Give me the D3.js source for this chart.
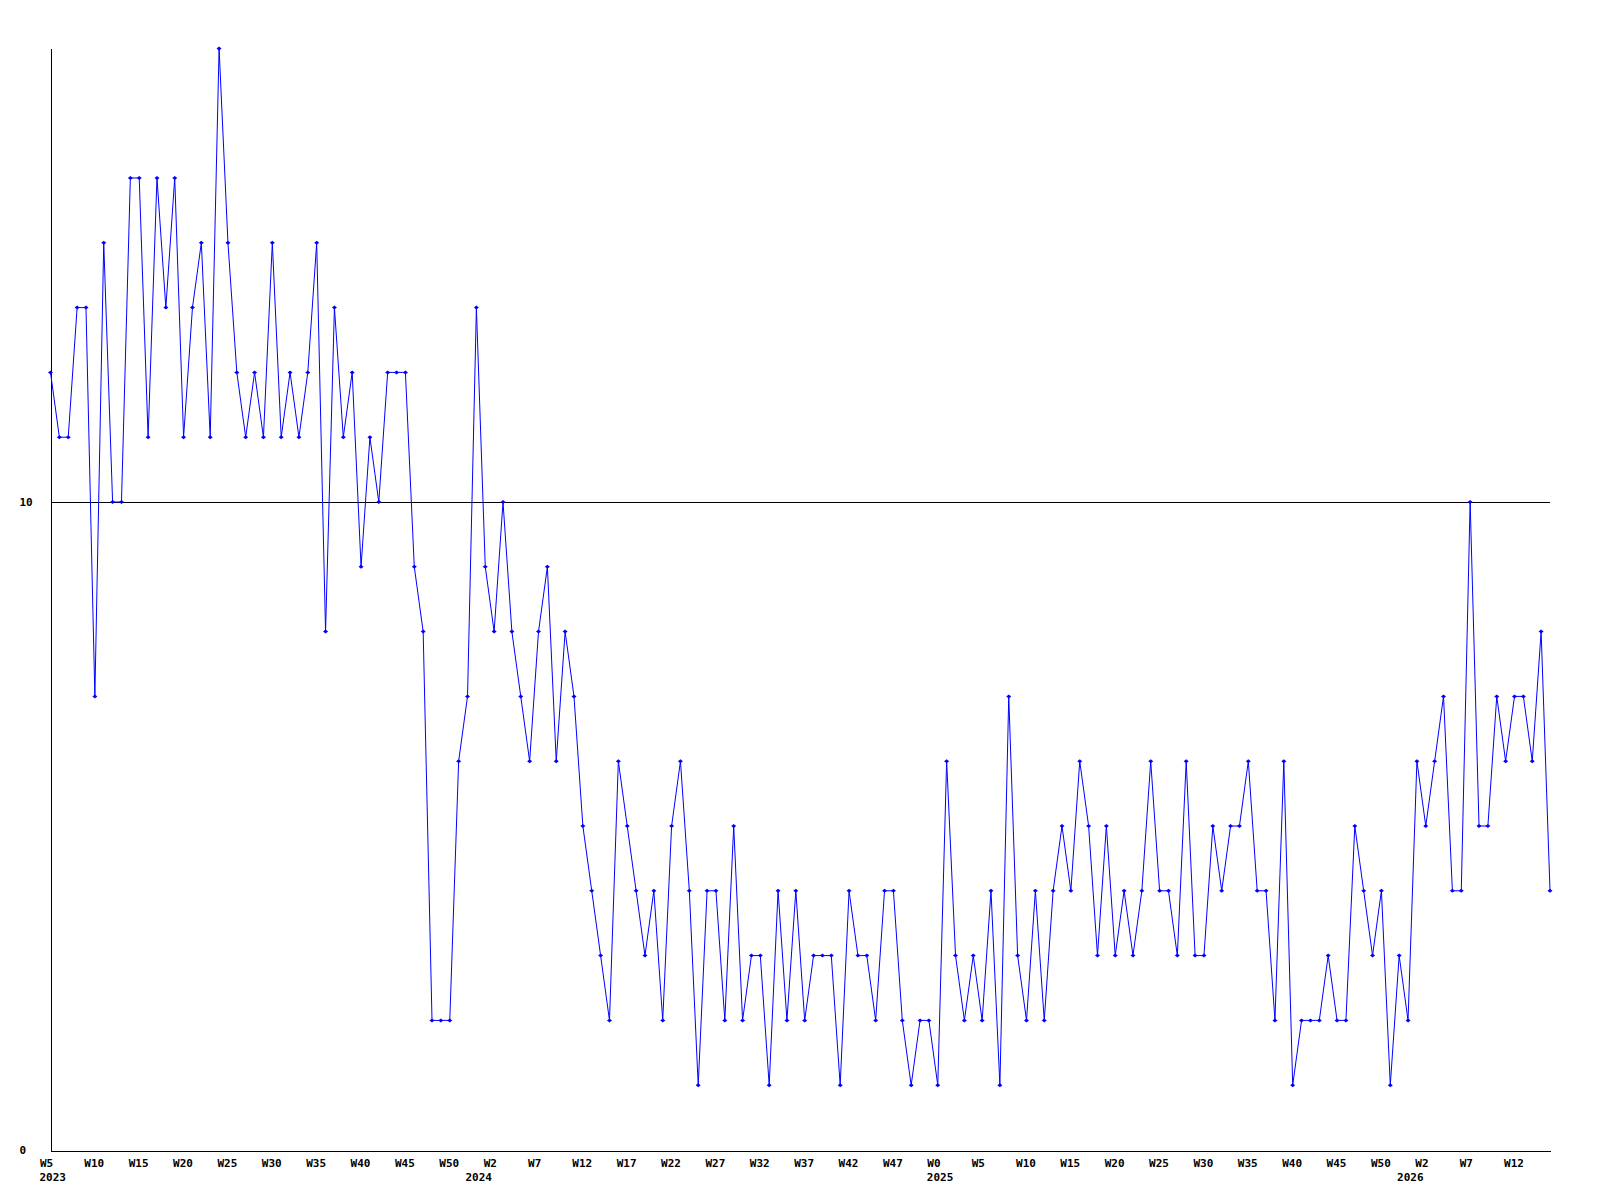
<!DOCTYPE html>
<html>
<head>
<meta charset="utf-8">
<script src="https://cdn.jsdelivr.net/npm/d3@7"></script>
<style>
  html, body { margin: 0; padding: 0; background: #fff; }
  svg { display: block; }
  text { font-family: "DejaVu Sans Mono", "Liberation Mono", monospace; font-size: 11px; font-weight: bold; fill: #000; }
</style>
</head>
<body>
<svg id="chart" width="1600" height="1200"></svg>
<script>
// Weekly values (one per week, starting 2023 W5)
const values = [
  12, 11, 11, 13, 13, 7, 14, 10, 10, 15,
  15, 11, 15, 13, 15, 11, 13, 14, 11, 17,
  14, 12, 11, 12, 11, 14, 11, 12, 11, 12,
  14, 8, 13, 11, 12, 9, 11, 10, 12, 12,
  12, 9, 8, 2, 2, 2, 6, 7, 13, 9,
  8, 10, 8, 7, 6, 8, 9, 6, 8, 7,
  5, 4, 3, 2, 6, 5, 4, 3, 4, 2,
  5, 6, 4, 1, 4, 4, 2, 5, 2, 3,
  3, 1, 4, 2, 4, 2, 3, 3, 3, 1,
  4, 3, 3, 2, 4, 4, 2, 1, 2, 2,
  1, 6, 3, 2, 3, 2, 4, 1, 7, 3,
  2, 4, 2, 4, 5, 4, 6, 5, 3, 5,
  3, 4, 3, 4, 6, 4, 4, 3, 6, 3,
  3, 5, 4, 5, 5, 6, 4, 4, 2, 6,
  1, 2, 2, 2, 3, 2, 2, 5, 4, 3,
  4, 1, 3, 2, 6, 5, 6, 7, 4, 4,
  10, 5, 5, 7, 6, 7, 7, 6, 8, 4
];

// X tick labels, one every 5 weeks
const weekTickLabels = [
  "W5","W10","W15","W20","W25","W30","W35","W40","W45","W50",
  "W2","W7","W12","W17","W22","W27","W32","W37","W42","W47",
  "W0","W5","W10","W15","W20","W25","W30","W35","W40","W45","W50",
  "W2","W7","W12"
];
const weekTickStep = 5;

// Year labels and the week index where each year starts on the axis
const yearNames = ["2023", "2024", "2025", "2026"];
const yearStartIndex = [0, 48, 100, 153];

// Y ticks
const yTickValues = [0, 10];
const yMax = 17;

const svg = d3.select("#chart");

const x = d3.scaleLinear().domain([0, values.length - 1]).range([50.5, 1550]);
const y = d3.scaleLinear().domain([0, yMax]).range([1150, 48.4]);

// Horizontal reference line at 10
svg.append("line")
  .attr("x1", x(0)).attr("x2", x(values.length - 1))
  .attr("y1", Math.round(y(10)) + 0.5).attr("y2", Math.round(y(10)) + 0.5)
  .attr("stroke", "#000").attr("stroke-width", 1)
  .attr("shape-rendering", "crispEdges");

// Y axis
const yAxis = d3.axisLeft(y).tickValues(yTickValues).tickSize(0).tickSizeOuter(0).tickFormat(d3.format("d"));
const gy = svg.append("g").attr("transform", "translate(50.5,0)").call(yAxis);
gy.select(".domain").attr("stroke", "#000").attr("shape-rendering", "crispEdges");
gy.selectAll(".tick text")
  .attr("text-anchor", "start")
  .attr("x", -31)
  .attr("dy", "0.35em")
  .style("font-family", null).style("font-size", null);
gy.attr("font-family", null).attr("font-size", null);

// X axis
const tickIdx = weekTickLabels.map((_, i) => i * weekTickStep);
const xAxis = d3.axisBottom(x).tickValues(tickIdx).tickSize(0).tickSizeOuter(0)
  .tickFormat((d, i) => weekTickLabels[i]);
const gx = svg.append("g").attr("transform", "translate(0,1150.5)").call(xAxis);
gx.select(".domain").attr("stroke", "#000").attr("shape-rendering", "crispEdges");
gx.selectAll(".tick text")
  .attr("text-anchor", "start")
  .attr("x", -11)
  .attr("y", 16)
  .attr("dy", 0);
gx.attr("font-family", null).attr("font-size", null);

// Year labels
svg.append("g").selectAll("text")
  .data(yearNames)
  .join("text")
  .attr("x", (d, i) => x(yearStartIndex[i]) - 11)
  .attr("y", 1181)
  .text(d => d);

// Data line
const line = d3.line().x((d, i) => x(i)).y(d => y(d));
svg.append("path")
  .datum(values)
  .attr("d", line)
  .attr("fill", "none")
  .attr("stroke", "#0000ff")
  .attr("stroke-width", 1);

// Markers
svg.append("g").selectAll("path")
  .data(values)
  .join("path")
  .attr("d", (d, i) => {
    const cx = x(i), cy = y(d);
    return `M${cx - 2.5},${cy} L${cx},${cy - 2} L${cx + 2.5},${cy} L${cx},${cy + 2} Z`;
  })
  .attr("fill", "#0000ff")
  .attr("stroke", "none");
</script>
</body>
</html>
